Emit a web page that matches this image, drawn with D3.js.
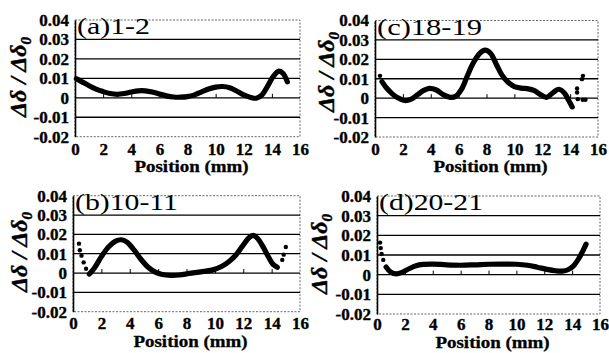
<!DOCTYPE html>
<html>
<head>
<meta charset="utf-8">
<script src="https://cdn.jsdelivr.net/npm/d3@7"></script>
<style>
  html, body { margin: 0; padding: 0; background: #fff; }
  svg { display: block; }
</style>
</head>
<body>
<svg id="chart" width="609" height="353"></svg>
<script>
// ---- data ----
const panelNames = ["(a)1-2", "(b)10-11", "(c)18-19", "(d)20-21"];
const yTicks = [-0.02, -0.01, 0, 0.01, 0.02, 0.03, 0.04];
const yTickLabels = ["-0.02", "-0.01", "0", "0.01", "0.02", "0.03", "0.04"];
const xTicks = [0, 2, 4, 6, 8, 10, 12, 14, 16];
const xTickLabels = ["0", "2", "4", "6", "8", "10", "12", "14", "16"];
const xTitle = "Position (mm)";

// [position (mm), normalised deflection]
const curveA = [[0.1,0.0098],[0.5,0.0082],[1.0,0.0062],[1.5,0.0045],[2.0,0.0032],[2.5,0.0022],[3.0,0.0018],
  [3.5,0.0022],[4.0,0.0030],[4.5,0.0036],[5.0,0.0036],[5.5,0.0030],[6.0,0.0020],[6.5,0.0010],[7.0,0.0004],
  [7.5,0.0003],[8.0,0.0006],[8.5,0.0015],[9.0,0.0030],[9.5,0.0045],[10.0,0.0055],[10.5,0.0058],[11.0,0.0052],
  [11.5,0.0035],[12.0,0.0015],[12.5,0.0002],[12.9,-0.0002],[13.3,0.0015],[13.7,0.0060],[14.1,0.0110],
  [14.5,0.0137],[14.8,0.0125],[15.1,0.0082]];
const dotsA = [];

const curveB = [[1.15,-0.0005],[1.5,0.0025],[2.0,0.0085],[2.5,0.0135],[3.0,0.0165],[3.4,0.0172],[3.8,0.0160],
  [4.3,0.0120],[4.8,0.0070],[5.3,0.0030],[5.8,0.0005],[6.3,-0.0008],[6.9,-0.0012],[7.5,-0.0010],[8.2,-0.0002],
  [9.0,0.0006],[9.8,0.0015],[10.5,0.0035],[11.0,0.0060],[11.5,0.0095],[12.0,0.0145],[12.4,0.0183],
  [12.7,0.0195],[13.0,0.0180],[13.4,0.0135],[13.8,0.0080],[14.1,0.0045],[14.4,0.0030]];
const dotsB = [[0.42,0.0152],[0.48,0.0118],[0.6,0.0090],[0.75,0.0055],[0.92,0.0022],
  [14.75,0.0068],[14.85,0.0095],[15.0,0.0135]];

const curveC = [[0.5,0.0085],[0.8,0.0055],[1.2,0.0025],[1.6,0.0003],[2.1,-0.0012],[2.6,-0.0005],[3.0,0.0015],
  [3.5,0.0040],[3.9,0.0050],[4.4,0.0042],[4.9,0.0018],[5.4,0.0004],[5.8,0.0010],[6.2,0.0045],[6.6,0.0110],
  [7.0,0.0175],[7.5,0.0230],[7.9,0.0247],[8.3,0.0230],[8.7,0.0175],[9.1,0.0120],[9.5,0.0085],[10.0,0.0060],
  [10.5,0.0052],[11.0,0.0048],[11.4,0.0040],[11.8,0.0022],[12.3,0.0004],[12.8,0.0030],[13.2,0.0046],
  [13.6,0.0025],[13.9,-0.0012],[14.15,-0.0045]];
const dotsC = [[0.36,0.0115],[14.5,0.0050],[14.5,0.0029],[14.55,-0.0005],[14.9,-0.0008],[15.1,-0.0008],
  [14.85,0.0098],[14.92,0.0115]];

const curveD = [[0.65,0.0039],[1.0,0.0012],[1.4,0.0004],[1.8,0.0012],[2.3,0.0030],[2.8,0.0045],[3.3,0.0052],
  [4.0,0.0054],[5.0,0.0050],[6.0,0.0048],[7.0,0.0050],[8.0,0.0053],[9.0,0.0054],[10.0,0.0053],[10.8,0.0048],
  [11.5,0.0038],[12.2,0.0027],[12.8,0.0020],[13.3,0.0018],[13.7,0.0025],[14.1,0.0045],[14.5,0.0085],
  [14.8,0.0125],[15.0,0.0155]];
const dotsD = [[0.22,0.0163],[0.27,0.0135],[0.33,0.0105],[0.45,0.0075]];

// ---- layout ----
const FONT = "Liberation Serif";
const panels = [
  { name: panelNames[0], curve: curveA, dots: dotsA, left: 75,  right: 300, top: 20,    bottom: 136.7,
    labelW: 73,  tickY: 155, titleY: 172, yTitleX: 26,  yTitleY: 77 },
  { name: panelNames[1], curve: curveB, dots: dotsB, left: 73,  right: 300, top: 195.7, bottom: 311.7,
    labelW: 103, tickY: 329, titleY: 347, yTitleX: 27,  yTitleY: 252 },
  { name: panelNames[2], curve: curveC, dots: dotsC, left: 375, right: 598, top: 20.5,  bottom: 137,
    labelW: 105, tickY: 155, titleY: 172, yTitleX: 334, yTitleY: 72 },
  { name: panelNames[3], curve: curveD, dots: dotsD, left: 377, right: 600, top: 196,   bottom: 314,
    labelW: 104, tickY: 330, titleY: 348, yTitleX: 327, yTitleY: 254 }
];

const svg = d3.select("#chart");

panels.forEach(p => {
  const x = d3.scaleLinear().domain([0, 16]).range([p.left, p.right]);
  const y = d3.scaleLinear().domain([-0.02, 0.04]).range([p.bottom, p.top]);
  const g = svg.append("g");

  // dotted plot-area frame
  g.append("rect")
    .attr("x", x(0)).attr("y", y(0.04))
    .attr("width", x(16) - x(0)).attr("height", y(-0.02) - y(0.04))
    .attr("fill", "none").attr("stroke", "#666").attr("stroke-width", 1)
    .attr("stroke-dasharray", "2,1.5");

  // horizontal gridlines
  g.append("g").selectAll("line")
    .data(yTicks.filter(v => v > -0.02 && v < 0.04))
    .join("line")
    .attr("x1", x(0)).attr("x2", x(16))
    .attr("y1", d => y(d)).attr("y2", d => y(d))
    .attr("stroke", "#000").attr("stroke-width", 1.3);

  // y axis line and labels
  const yAxis = g.append("g")
    .attr("transform", `translate(${x(0)},0)`)
    .call(d3.axisLeft(y).tickValues(yTicks)
      .tickFormat((d, i) => yTickLabels[i]).tickSize(0).tickPadding(6))
    .attr("font-family", FONT);
  yAxis.select(".domain").attr("stroke", "#000").attr("stroke-width", 1.6);
  yAxis.selectAll("text")
    .attr("font-family", FONT)
    .attr("font-size", 17).attr("font-weight", "bold").attr("fill", "#000")
    .attr("stroke", "#000").attr("stroke-width", 0.35);

  // small tick marks sitting on the zero line
  const zeroTicks = g.append("g")
    .attr("transform", `translate(0,${y(0)})`)
    .call(d3.axisTop(x).tickValues(xTicks.slice(1, -1)).tickSize(4).tickFormat(""));
  zeroTicks.select(".domain").remove();
  zeroTicks.selectAll("line").attr("stroke", "#000").attr("stroke-width", 1);

  // x tick labels
  const xAxis = g.append("g")
    .attr("transform", `translate(0,${p.tickY})`)
    .call(d3.axisBottom(x).tickValues(xTicks)
      .tickFormat((d, i) => xTickLabels[i]).tickSize(0).tickPadding(0))
    .attr("font-family", FONT);
  xAxis.select(".domain").remove();
  xAxis.selectAll("text")
    .attr("dy", 0).attr("y", 0)
    .attr("font-family", FONT)
    .attr("font-size", 17).attr("font-weight", "bold").attr("fill", "#000")
    .attr("stroke", "#000").attr("stroke-width", 0.35);

  // x axis title
  g.append("text")
    .attr("x", (x(0) + x(16)) / 2 + 4).attr("y", p.titleY)
    .attr("text-anchor", "middle")
    .attr("font-family", FONT)
    .attr("font-size", 16).attr("font-weight", "bold")
    .attr("stroke", "#000").attr("stroke-width", 0.3)
    .attr("textLength", 114).attr("lengthAdjust", "spacingAndGlyphs")
    .text(xTitle);

  // y axis title, rotated
  const yt = g.append("text")
    .attr("transform", `translate(${p.yTitleX},${p.yTitleY}) rotate(-90)`)
    .attr("text-anchor", "middle")
    .attr("font-family", FONT)
    .attr("font-size", 24).attr("font-weight", "bold").attr("font-style", "italic")
    .attr("stroke", "#000").attr("stroke-width", 0.4);
  yt.append("tspan").text("\u0394\u03b4 / \u0394\u03b4");
  yt.append("tspan").attr("dy", 5).attr("font-size", 15).text("0");

  // panel label
  g.append("text")
    .attr("x", x(0) + 2).attr("y", y(0.04) + 14)
    .attr("font-family", FONT)
    .attr("font-size", 23)
    .attr("textLength", p.labelW).attr("lengthAdjust", "spacingAndGlyphs")
    .text(p.name);

  // measured distribution
  const line = d3.line()
    .x(d => x(d[0])).y(d => y(d[1]))
    .curve(d3.curveCatmullRom.alpha(0.5));
  g.append("path")
    .datum(p.curve)
    .attr("d", line)
    .attr("fill", "none").attr("stroke", "#000")
    .attr("stroke-width", 5.2).attr("stroke-linecap", "round").attr("stroke-linejoin", "round");

  g.append("g").selectAll("circle")
    .data(p.dots)
    .join("circle")
    .attr("cx", d => x(d[0])).attr("cy", d => y(d[1]))
    .attr("r", 2.2).attr("fill", "#000");
});
</script>
</body>
</html>
